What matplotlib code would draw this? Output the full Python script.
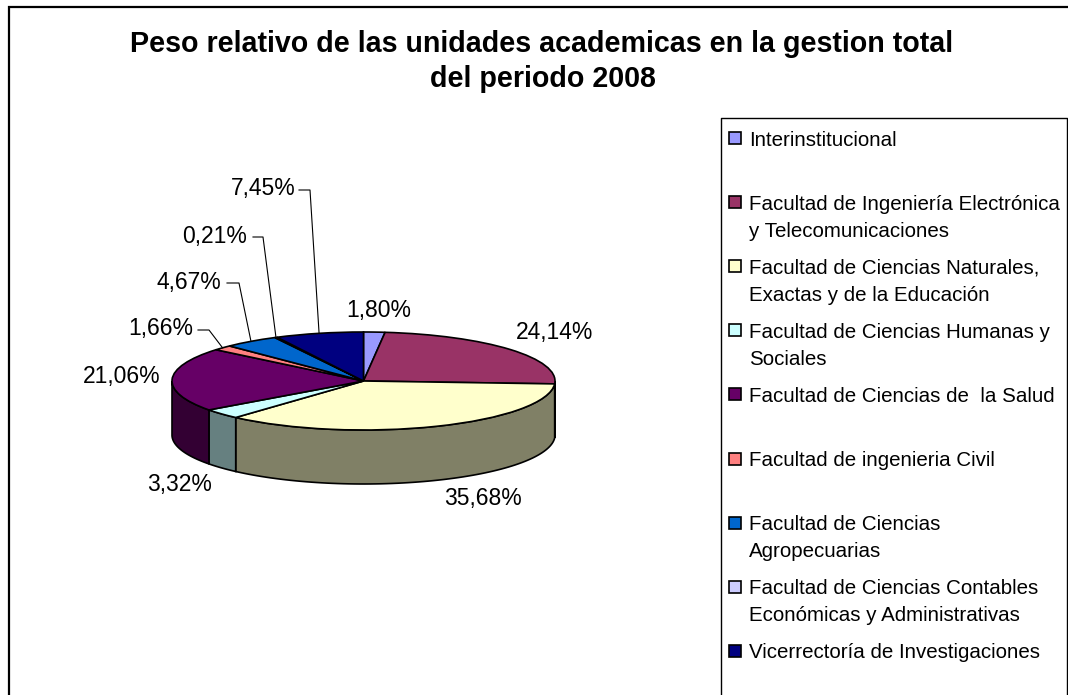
import numpy as np
import matplotlib
matplotlib.use("Agg")
import matplotlib.pyplot as plt
from matplotlib.patches import Polygon, Rectangle

plt.rcParams['font.family'] = ['Liberation Sans', 'DejaVu Sans']

# -----------------------------
# Data
# -----------------------------
title_lines = ["Peso relativo de las unidades academicas en la gestion total",
               "del periodo 2008"]
values = [1.80, 24.14, 35.68, 3.32, 21.06, 1.66, 4.67, 0.21, 7.45]
value_labels = ["1,80%", "24,14%", "35,68%", "3,32%", "21,06%",
                "1,66%", "4,67%", "0,21%", "7,45%"]
legend_lines = [
    ["Interinstitucional"],
    ["Facultad de Ingeniería Electrónica", "y Telecomunicaciones"],
    ["Facultad de Ciencias Naturales,", "Exactas y de la Educación"],
    ["Facultad de Ciencias Humanas y", "Sociales"],
    ["Facultad de Ciencias de  la Salud"],
    ["Facultad de ingenieria Civil"],
    ["Facultad de Ciencias", "Agropecuarias"],
    ["Facultad de Ciencias Contables", "Económicas y Administrativas"],
    ["Vicerrectoría de Investigaciones"],
]
top_colors = ["#9999FF", "#993366", "#FFFFCC", "#CCFFFF", "#660066",
              "#FF8080", "#0066CC", "#CCCCFF", "#000080"]
side_colors = ["#4C4C80", "#4C1933", "#808066", "#668080", "#330033",
               "#804040", "#003366", "#666680", "#000040"]

# -----------------------------
# Layout (pixels)
# -----------------------------
W, H = 1068, 695
CX, CY = 363.5, 381.0
RX, RY = 191.5, 49.0
DEPTH = 54.0

# label centre per slice, None means no leader line
label_pos = [(379, 310), (555, 332), (483, 498), (180, 485), (122, 377),
             (161, 329), (189, 282), (215, 236), (263, 188)]
leader_start = [None, None, None, None, None,
                (198, 330), (227, 283), (253, 237), (299, 190)]
leader_elbow = [None, None, None, None, None,
                (209, 330), (239, 283), (263, 237), (310, 190)]

fig = plt.figure(figsize=(W / 100, H / 100), dpi=100, facecolor="white")

# pie axes fill the figure, one data unit = pie radius
ax = fig.add_axes([0, 0, 1, 1])
ax.pie(values, colors=top_colors, startangle=90, counterclock=False, radius=1,
       wedgeprops={"edgecolor": "black", "linewidth": 1.2, "zorder": 3})
ax.set_aspect("auto")
ax.set_xlim(-CX / RX, (W - CX) / RX)
ax.set_ylim((CY - H) / RY, CY / RY)

# rim of the pie, only the front half shows
edges = np.cumsum([0] + values) / sum(values) * 360
for i in range(len(values)):
    th0, th1 = max(edges[i], 90), min(edges[i + 1], 270)
    if th1 <= th0:
        continue
    t = np.radians(np.linspace(th0, th1, 80))
    upper = np.column_stack([np.sin(t), np.cos(t)])
    lower = upper[::-1] - [0, DEPTH / RY]
    ax.add_patch(Polygon(np.vstack([upper, lower]), closed=True,
                         facecolor=side_colors[i], edgecolor="black",
                         linewidth=1.2, zorder=2))

# overlay in image pixels for text, frame and legend
ov = fig.add_axes([0, 0, 1, 1])
ov.set_xlim(0, W)
ov.set_ylim(H, 0)
ov.axis("off")

# chart frame, open at the bottom and right
ov.plot([9, 9, W], [H, 7, 7], color="black", lw=1.6, solid_joinstyle="miter")

# title
ov.text(542, 44, title_lines[0], fontsize=20.6, fontweight="bold",
        ha="center", va="center")
ov.text(543, 79, title_lines[1], fontsize=20.6, fontweight="bold",
        ha="center", va="center")

# value labels and leader lines
mid = (edges[:-1] + edges[1:]) / 2
for i, lab in enumerate(value_labels):
    ov.text(label_pos[i][0], label_pos[i][1], lab, fontsize=16.5,
            ha="center", va="center", color="black")
    if leader_start[i] is not None:
        end_x = CX + RX * np.sin(np.radians(mid[i]))
        end_y = CY - RY * np.cos(np.radians(mid[i]))
        ov.plot([leader_start[i][0], leader_elbow[i][0], end_x],
                [leader_start[i][1], leader_elbow[i][1], end_y],
                color="black", lw=0.8)

# legend box, open at the bottom
ov.plot([721, 721, 1067, 1067], [H, 118, 118, H], color="black", lw=1.0)
for i, lines in enumerate(legend_lines):
    y0 = 138 + i * 64.1
    ov.add_patch(Rectangle((729, y0 - 6), 12, 12, facecolor=top_colors[i],
                           edgecolor="black", linewidth=1.2))
    for j, line in enumerate(lines):
        ov.text(749, y0 + j * 27, line, fontsize=14.8, ha="left", va="center_baseline")

fig.savefig("out.png", dpi=100)
